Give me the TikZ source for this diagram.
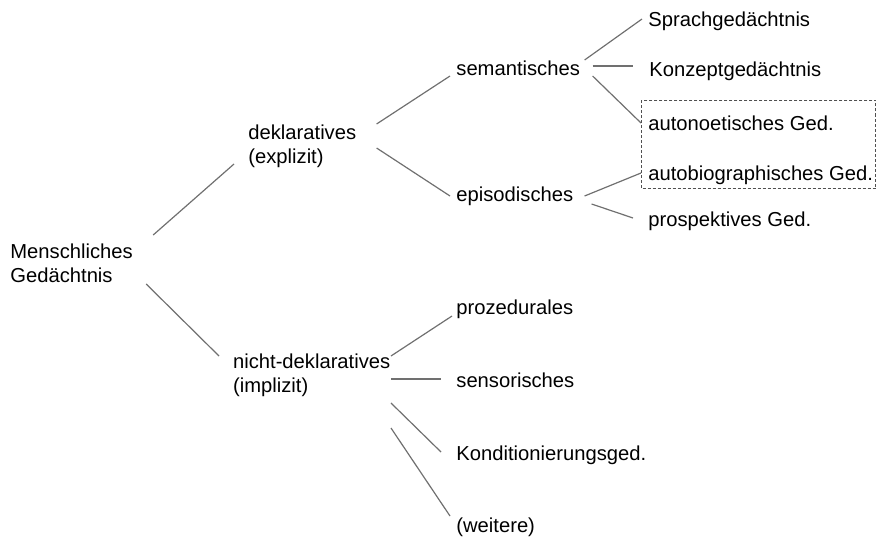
\documentclass[tikz,border=0pt]{standalone}
\usepackage{fontspec}
\setmainfont{Liberation Sans}
\definecolor{linegray}{RGB}{112,112,112}
\definecolor{boxgray}{RGB}{80,80,80}

\begin{document}
\begin{tikzpicture}[x=0.5pt,y=-0.5pt,every node/.style={inner sep=0pt,anchor=base west,align=left,font=\fontsize{10.1}{12}\selectfont},lnk/.style={linegray,line width=0.6pt}]
\useasboundingbox (0,0) rectangle (876,536);
\node (M) at (10,282.3) {Menschliches\\Ged\"achtnis};
\node (D) at (248,163) {deklaratives\\(explizit)};
\node (N) at (232.7,392.3) {nicht-deklaratives\\(implizit)};
\node (S) at (456,75) {semantisches};
\node (E) at (456,201.7) {episodisches};
\node (SG) at (648,26) {Sprachged\"achtnis};
\node (KG) at (649,76) {Konzeptged\"achtnis};
\node (AN) at (648,130) {autonoetisches Ged.};
\node (AB) at (648,180) {autobiographisches Ged.};
\node (PG) at (648,226) {prospektives Ged.};
\node (P) at (456,314) {prozedurales};
\node (SE) at (456,387.3) {sensorisches};
\node (K) at (456,460) {Konditionierungsged.};
\node (W) at (456,532.7) {(weitere)};
\draw[lnk] ([shift={(20,-47.3)}]M.base east) -- ([shift={(-14,1)}]D.base west);
\draw[lnk] ([shift={(13,1.7)}]M.base east) -- ([shift={(-13.7,-36.3)}]N.base west);
\draw[lnk] ([shift={(20,-39)}]D.base east) -- ([shift={(-6,1)}]S.base west);
\draw[lnk] ([shift={(20,-15)}]D.base east) -- ([shift={(-6,-5.7)}]E.base west);
\draw[lnk] ([shift={(0.3,-36.3)}]N.base east) -- ([shift={(-4,2)}]P.base west);
\draw[lnk] ([shift={(0.3,-13.3)}]N.base east) -- ([shift={(-15,-8.3)}]SE.base west);
\draw[lnk] ([shift={(0.3,10.7)}]N.base east) -- ([shift={(-15,-8)}]K.base west);
\draw[lnk] ([shift={(0.3,35.7)}]N.base east) -- ([shift={(-6,-16.7)}]W.base west);
\draw[lnk] ([shift={(4.3,-15)}]S.base east) -- ([shift={(-6,-7)}]SG.base west);
\draw[lnk] ([shift={(12.3,-9)}]S.base east) -- ([shift={(-16,-10)}]KG.base west);
\draw[lnk] ([shift={(12.3,1)}]S.base east) -- ([shift={(-7,-7)}]AN.base west);
\draw[lnk] ([shift={(11,-5.7)}]E.base east) -- ([shift={(-7,-7)}]AB.base west);
\draw[lnk] ([shift={(18,2.3)}]E.base east) -- ([shift={(-15,-8)}]PG.base west);
\draw[boxgray,line width=0.5pt,dash pattern=on 1.5pt off 1pt] ([shift={(-7,-30)}]AN.base west) rectangle ([shift={(2.5,8.3)}]AB.base east);
\end{tikzpicture}
\end{document}
